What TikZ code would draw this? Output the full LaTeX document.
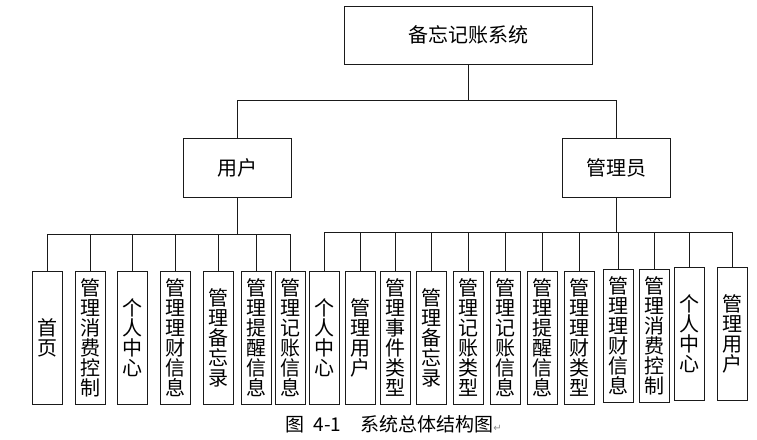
\documentclass[tikz,border=0pt]{standalone}
\usepackage{fontspec}
\usepackage{tikz}
\usetikzlibrary{positioning}
\setmainfont{Noto Sans CJK SC}
\newfontfamily\markfont{DejaVu Sans}
\definecolor{Ink}{HTML}{1A1A1A}
\definecolor{Mark}{HTML}{8C8C8C}
\tikzset{
  box/.style={draw=Ink,line width=0.8pt,inner sep=0pt,align=center,font=\fontsize{20}{20}\selectfont},
  topbox/.style={box,minimum width=248pt,minimum height=58pt},
  rolebox/.style={box,minimum width=108pt,minimum height=59pt},
  leafbox/.style={box,minimum width=30pt,minimum height=133pt},
  wire/.style={Ink,line width=0.8pt},
  caption/.style={font=\fontsize{19}{19}\selectfont,inner sep=0pt}
}

\begin{document}
\begin{tikzpicture}[x=1pt,y=-1pt]
        \useasboundingbox (0,0) rectangle (757,439);
        % top and second level
        \node[topbox] (sys) at (468,35) {备忘记账系统};
        \node[rolebox] (user) at (237.5,167.5) {用户};
        \node[rolebox] (admin) at (616,167.5) {管理员};
        % leaves of user
        \node[leafbox] (u1) at (47,337.5) {首\\页};
        \node[leafbox] (u2) at (90,337.5) {管\\理\\消\\费\\控\\制};
        \node[leafbox] (u3) at (132.5,337.5) {个\\人\\中\\心};
        \node[leafbox] (u4) at (175,337.5) {管\\理\\理\\财\\信\\息};
        \node[leafbox] (u5) at (218,337.5) {管\\理\\备\\忘\\录};
        \node[leafbox] (u6) at (256.5,337.5) {管\\理\\提\\醒\\信\\息};
        \node[leafbox] (u7) at (290,337.5) {管\\理\\记\\账\\信\\息};
        % leaves of admin
        \node[leafbox] (a1) at (324,337.5) {个\\人\\中\\心};
        \node[leafbox] (a2) at (360,337.5) {管\\理\\用\\户};
        \node[leafbox] (a3) at (395.5,337.5) {管\\理\\事\\件\\类\\型};
        \node[leafbox] (a4) at (431.5,337.5) {管\\理\\备\\忘\\录};
        \node[leafbox] (a5) at (468,337.5) {管\\理\\记\\账\\类\\型};
        \node[leafbox] (a6) at (505,337.5) {管\\理\\记\\账\\信\\息};
        \node[leafbox] (a7) at (542,337.5) {管\\理\\提\\醒\\信\\息};
        \node[leafbox] (a8) at (579,337.5) {管\\理\\理\\财\\类\\型};
        \node[leafbox] (a9) at (618,336) {管\\理\\理\\财\\信\\息};
        \node[leafbox] (a10) at (654,336) {管\\理\\消\\费\\控\\制};
        \node[leafbox] (a11) at (689,334) {个\\人\\中\\心};
        \node[leafbox] (a12) at (732,334) {管\\理\\用\\户};
        % wires
        \coordinate (topbus) at (468,100);
        \coordinate (ubus) at (237.5,234);
        \coordinate (abus) at (616,232);
        \draw[wire] (sys.south) -- (topbus) -| (user.north);
        \draw[wire] (topbus) -| (admin.north);
        \draw[wire] (user.south) -- (ubus);
        \draw[wire] (admin.south) -- (abus);
        \foreach \n in {u1,u2,u3,u4,u5,u6,u7}
          \draw[wire] (ubus) -| (\n.north);
        \foreach \n in {a1,a2,a3,a4,a5,a6,a7,a8,a9,a10,a11,a12}
          \draw[wire] (abus) -| (\n.north);
        \node[caption,anchor=west] (cap) at (285,424) {图\enspace 4-1\quad 系统总体结构图{\markfont\color{Mark}\fontsize{10}{10}\selectfont ↵}};
      \end{tikzpicture}
\end{document}
